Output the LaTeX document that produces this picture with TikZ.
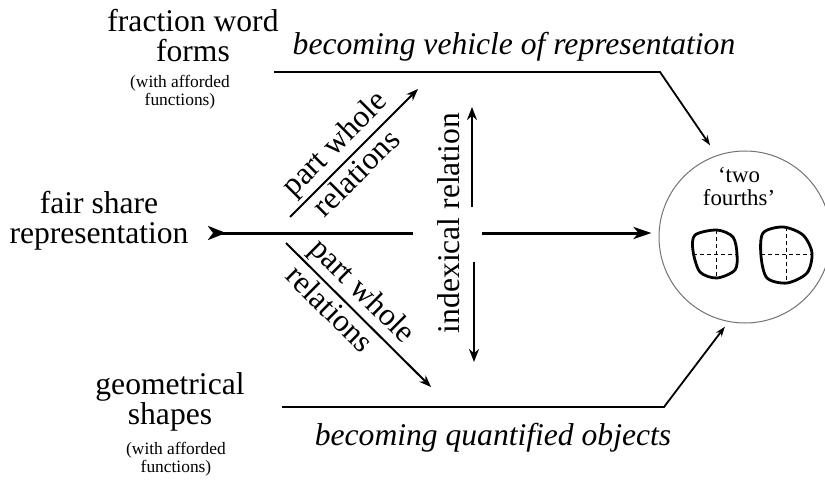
\documentclass[tikz,border=0pt]{standalone}
\usepackage{fontspec}
\setmainfont{Liberation Serif}
\usetikzlibrary{arrows.meta}

\begin{document}
\begin{tikzpicture}[x=0.5pt, y=-0.5pt,
    bigtext/.style={font=\fontsize{15.8}{15}\selectfont, align=center},
    smalltext/.style={font=\fontsize{8.7}{9}\selectfont, align=center},
    slanttext/.style={font=\fontsize{15.8}{15}\selectfont\itshape},
    relword/.style={font=\fontsize{15.8}{15}\selectfont, sloped, inner sep=1.5pt},
    spine/.style={line width=1.5pt},
    relarrow/.style={line width=1pt, -{Stealth[length=6pt, width=4.5pt]}},
    idxarrow/.style={line width=1.2pt, -{Stealth[length=6.5pt, width=5pt]}},
    becoming/.style={line width=0.9pt, -{Stealth[length=5pt, width=3.5pt]}},
    blob/.style={line width=1.4pt},
    quarter/.style={line width=0.5pt, dash pattern=on 2pt off 1.5pt}]

  \useasboundingbox (0,0) rectangle (825,481);

  % the three sources
  \node[bigtext] (fracwords) at (193,36) {fraction word\\forms};
  \node[smalltext] (fracnote) at (180,92) {(with afforded\\functions)};
  \node[bigtext] (fairshare) at (99,221) {fair share\\representation};
  \node[bigtext] (geoshapes) at (170,402) {geometrical\\shapes};
  \node[smalltext] (geonote) at (176,459) {(with afforded\\functions)};

  % the circle
  \node[circle, draw=black!55, line width=0.5pt, minimum size=86pt, inner sep=0pt] (result) at (745,237) {};
  \node[font=\fontsize{11.4}{11.5}\selectfont, align=center] (twofourths) at (739,187) {‘two\\fourths’};

  % the two shapes in quarters
  \draw[blob] plot[smooth cycle] coordinates {(695,235) (717,230) (733,237) (737,254) (735,270) (717,278) (700,272) (693,251)};
  \draw[quarter] (693,254) -- (737,254) (716,230) -- (716,278);
  \draw[blob] plot[smooth cycle] coordinates {(763,233) (783,227) (803,235) (812,253) (807,273) (787,283) (767,278) (761,256)};
  \draw[quarter] (761,254) -- (812,254) (786,227) -- (786,283);

  % the main arrow, cut by the indexical relation
  \coordinate (tail) at (208,233);
  \coordinate (gapL) at (413,233);
  \coordinate (gapR) at (482,233);
  \draw[spine, {Stealth[reversed, length=9pt, width=7pt, inset=2.5pt]}-] (tail) -- (gapL);
  \draw[spine, -{Stealth[length=9pt, width=6pt, inset=2.5pt]}, shorten >=3.5pt] (gapR) -- (gapR -| result.west);

  % the indexical relation
  \node[bigtext, rotate=90] (indexical) at (449,223) {indexical relation};
  \coordinate (idxupA) at (472,207);
  \coordinate (idxupB) at (472,107);
  \coordinate (idxdnA) at (474,262);
  \coordinate (idxdnB) at (474,362);
  \draw[idxarrow] (idxupA) -- (idxupB);
  \draw[idxarrow] (idxdnA) -- (idxdnB);

  % the part whole relations
  \coordinate (upA) at (290,217);
  \coordinate (upB) at (418,89);
  \draw[relarrow] (upA) -- node[relword, above, pos=0.46] {part whole} node[relword, below, pos=0.43] {relations} (upB);
  \coordinate (dnA) at (286,243);
  \coordinate (dnB) at (431,387);
  \draw[relarrow] (dnA) -- node[relword, above, pos=0.43] {part whole} node[relword, below, pos=0.38] {relations} (dnB);

  % the becoming paths
  \coordinate (vehA) at (274,72);
  \coordinate (vehB) at (660,72);
  \draw[becoming, shorten >=6pt] (vehA) -- (vehB) -- (result.109);
  \node[slanttext] (vehicle) at (514,47) {becoming vehicle of representation};
  \coordinate (quaA) at (282,407);
  \coordinate (quaB) at (664,407);
  \draw[becoming, shorten >=3pt] (quaA) -- (quaB) -- (result.259);
  \node[slanttext] (quantified) at (493,438) {becoming quantified objects};
\end{tikzpicture}
\end{document}
